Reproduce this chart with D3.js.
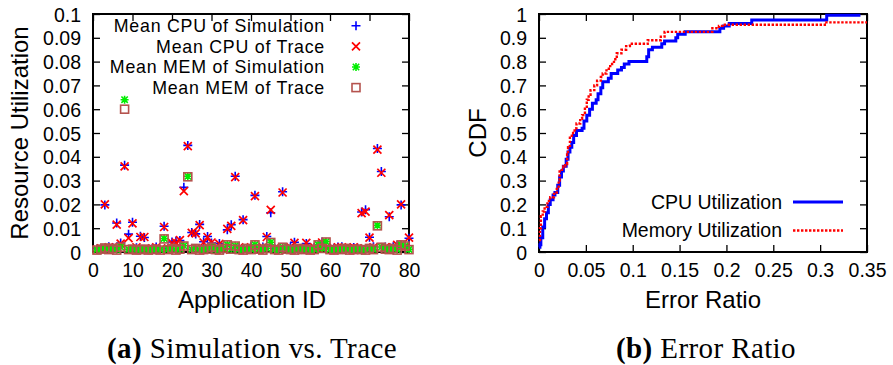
<!DOCTYPE html>
<html>
<head>
<meta charset="utf-8">
<script src="https://cdn.jsdelivr.net/npm/d3@7"></script>
<style>
  html, body { margin: 0; padding: 0; background: #fff; }
  svg { display: block; }
  text { font-family: "Liberation Sans", Arial, Helvetica, sans-serif; fill: #000; }
  .cap { font-family: "Liberation Serif", "Times New Roman", serif; }
</style>
</head>
<body>
<svg id="chart" width="893" height="365"></svg>
<script>
// ---------------- Data: (a) Simulation vs. Trace ----------------
const appIds = [1,2,3,4,5,6,7,8,9,10,11,12,13,14,15,16,17,18,19,20,
  21,22,23,24,25,26,27,28,29,30,31,32,33,34,35,36,37,38,39,40,
  41,42,43,44,45,46,47,48,49,50,51,52,53,54,55,56,57,58,59,60,
  61,62,63,64,65,66,67,68,69,70,71,72,73,74,75,76,77,78,79,80];

const cpuSim = [0.0012,0.0013,0.0198,0.0022,0.0018,0.0122,0.0038,0.0365,0.0075,0.0125,
  0.0018,0.0066,0.0061,0.0012,0.0014,0.0021,0.0011,0.0108,0.0016,0.0042,
  0.0045,0.0048,0.0272,0.0448,0.0082,0.0076,0.0116,0.0043,0.0065,0.0038,
  0.0021,0.0036,0.0012,0.0093,0.0115,0.0318,0.0019,0.0136,0.0011,0.0022,
  0.0238,0.0012,0.0021,0.0065,0.0165,0.0016,0.0012,0.0253,0.0012,0.0021,
  0.0041,0.0011,0.0016,0.0036,0.0012,0.0019,0.0016,0.0042,0.0021,0.0012,
  0.0016,0.0021,0.0022,0.0011,0.0016,0.0019,0.0016,0.0168,0.0178,0.0062,
  0.0022,0.0435,0.0338,0.0021,0.0148,0.0022,0.0028,0.0198,0.0022,0.0058];

const cpuTrace = [0.0010,0.0015,0.0200,0.0020,0.0020,0.0115,0.0035,0.0360,0.0058,0.0120,
  0.0020,0.0063,0.0063,0.0010,0.0015,0.0020,0.0010,0.0105,0.0015,0.0038,
  0.0040,0.0050,0.0256,0.0445,0.0080,0.0078,0.0113,0.0040,0.0063,0.0040,
  0.0020,0.0034,0.0010,0.0097,0.0110,0.0315,0.0020,0.0134,0.0010,0.0020,
  0.0235,0.0010,0.0020,0.0063,0.0177,0.0015,0.0010,0.0250,0.0010,0.0020,
  0.0038,0.0010,0.0015,0.0038,0.0010,0.0020,0.0015,0.0040,0.0020,0.0010,
  0.0015,0.0020,0.0020,0.0010,0.0015,0.0020,0.0015,0.0163,0.0170,0.0060,
  0.0020,0.0430,0.0333,0.0020,0.0155,0.0020,0.0030,0.0200,0.0020,0.0060];

const memSim = [0.0009,0.0013,0.0018,0.0011,0.0016,0.0009,0.0021,0.0640,0.0011,0.0013,
  0.0009,0.0011,0.0013,0.0009,0.0011,0.0013,0.0009,0.0057,0.0011,0.0016,
  0.0009,0.0013,0.0026,0.0318,0.0011,0.0016,0.0009,0.0011,0.0013,0.0021,
  0.0011,0.0009,0.0016,0.0031,0.0013,0.0026,0.0011,0.0009,0.0016,0.0011,
  0.0031,0.0013,0.0009,0.0016,0.0041,0.0011,0.0009,0.0021,0.0013,0.0011,
  0.0009,0.0016,0.0011,0.0013,0.0009,0.0011,0.0031,0.0016,0.0043,0.0011,
  0.0009,0.0013,0.0011,0.0016,0.0009,0.0011,0.0013,0.0011,0.0009,0.0016,
  0.0011,0.0112,0.0021,0.0013,0.0011,0.0016,0.0009,0.0031,0.0026,0.0011];

const memTrace = [0.0008,0.0012,0.0017,0.0010,0.0015,0.0008,0.0020,0.0600,0.0010,0.0012,
  0.0008,0.0010,0.0012,0.0008,0.0010,0.0012,0.0008,0.0055,0.0010,0.0015,
  0.0008,0.0012,0.0025,0.0316,0.0010,0.0015,0.0008,0.0010,0.0012,0.0020,
  0.0010,0.0008,0.0015,0.0030,0.0012,0.0025,0.0010,0.0008,0.0015,0.0010,
  0.0030,0.0012,0.0008,0.0015,0.0040,0.0010,0.0008,0.0020,0.0012,0.0010,
  0.0008,0.0015,0.0010,0.0012,0.0008,0.0010,0.0030,0.0015,0.0042,0.0010,
  0.0008,0.0012,0.0010,0.0015,0.0008,0.0010,0.0012,0.0010,0.0008,0.0015,
  0.0010,0.0110,0.0020,0.0012,0.0010,0.0015,0.0008,0.0030,0.0025,0.0010];

const leftXTicks = [0,10,20,30,40,50,60,70,80];
const leftYTicks = [0,0.01,0.02,0.03,0.04,0.05,0.06,0.07,0.08,0.09,0.1];
const leftLegend = ["Mean CPU of Simulation","Mean CPU of Trace","Mean MEM of Simulation","Mean MEM of Trace"];

// ---------------- Data: (b) Error Ratio CDF ----------------
const cpuErr = [0,0.001,0.002,0.004,0.006,0.008,0.010,0.012,0.015,0.017,0.020,0.022,0.024,0.026,
  0.029,0.031,0.033,0.035,0.037,0.040,0.046,0.048,0.051,0.054,0.057,0.061,0.063,0.066,0.068,
  0.074,0.077,0.084,0.088,0.091,0.096,0.115,0.117,0.121,0.131,0.134,0.146,0.148,0.156,0.193,
  0.197,0.203,0.227,0.307,0.343];
const cpuCdf = [0.02,0.03,0.06,0.105,0.14,0.165,0.20,0.22,0.24,0.25,0.28,0.315,0.34,0.36,
  0.39,0.42,0.44,0.46,0.49,0.51,0.52,0.55,0.575,0.60,0.625,0.64,0.665,0.69,0.715,
  0.73,0.75,0.765,0.775,0.79,0.80,0.82,0.85,0.86,0.875,0.887,0.90,0.915,0.925,0.94,
  0.95,0.96,0.975,0.995,0.995];

const memErr = [0,0.001,0.002,0.004,0.006,0.009,0.012,0.016,0.019,0.021,0.022,0.026,0.028,0.030,
  0.031,0.033,0.035,0.038,0.040,0.044,0.046,0.049,0.051,0.053,0.055,0.059,0.062,0.066,0.068,
  0.072,0.076,0.080,0.083,0.088,0.093,0.097,0.116,0.130,0.134,0.185,0.192,0.196,0.305,0.350];
const memCdf = [0.05,0.10,0.15,0.17,0.19,0.215,0.23,0.25,0.265,0.30,0.345,0.36,0.37,0.41,
  0.44,0.48,0.50,0.52,0.54,0.56,0.575,0.61,0.64,0.66,0.68,0.70,0.72,0.735,0.75,
  0.77,0.79,0.81,0.835,0.85,0.865,0.875,0.89,0.905,0.925,0.94,0.95,0.955,0.965,0.965];

const rightXTicks = [0,0.05,0.1,0.15,0.2,0.25,0.3,0.35];
const rightYTicks = [0,0.1,0.2,0.3,0.4,0.5,0.6,0.7,0.8,0.9,1];
const rightLegend = ["CPU Utilization","Memory Utilization"];

// ---------------- Drawing ----------------
const svg = d3.select("#chart");
const FS = 19.5;
const LFS = 17.8;
const BLUE = "#0000ff", RED = "#ff0000", GREEN = "#00ee00", BROWN = "#b5534e";

function frameAxes(g, x, y, xt, yt, xfmt, yfmt) {
  const [x0, x1] = x.range();
  const [y0, y1] = y.range();
  const mk = (axis, tr) => {
    const a = g.append("g").attr("transform", tr).call(axis);
    a.select(".domain").remove();
    a.selectAll("line").attr("stroke", "#000").attr("stroke-width", 1.3);
    a.selectAll("text").style("font-size", FS + "px")
      .style("font-family", '"Liberation Sans", Arial, sans-serif');
    return a;
  };
  mk(d3.axisBottom(x).tickValues(xt).tickSize(-7).tickPadding(11).tickFormat(xfmt), `translate(0,${y0})`);
  mk(d3.axisTop(x).tickValues(xt).tickSize(-7).tickFormat(""), `translate(0,${y1})`);
  mk(d3.axisLeft(y).tickValues(yt).tickSize(-7).tickPadding(12).tickFormat(yfmt), `translate(${x0},0)`)
    .selectAll("text").attr("dy", "0.36em");
  mk(d3.axisRight(y).tickValues(yt).tickSize(-7).tickFormat(""), `translate(${x1},0)`);
  g.append("rect").attr("x", x0).attr("y", y1).attr("width", x1 - x0).attr("height", y0 - y1)
    .attr("fill", "none").attr("stroke", "#000").attr("stroke-width", 2);
}

// ===== Panel (a) =====
const xa = d3.scaleLinear().domain([0, 80]).range([93, 409]);
const ya = d3.scaleLinear().domain([0, 0.1]).range([252, 14]);
const ga = svg.append("g");
frameAxes(ga, xa, ya, leftXTicks, leftYTicks, d3.format("d"), d => d === 0 ? "0" : String(+d.toFixed(2)));

const plusPath = s => `M${-s},0H${s}M0,${-s}V${s}`;
const crossPath = s => `M${-s},${-s}L${s},${s}M${-s},${s}L${s},${-s}`;
const starPath = s => plusPath(s) + crossPath(s * 0.8);

const markers = [
  {name: leftLegend[0], vals: cpuSim, draw: sel => sel.append("path").attr("d", plusPath(4.5)).attr("stroke", BLUE).attr("stroke-width", 1.6).attr("fill", "none")},
  {name: leftLegend[1], vals: cpuTrace, draw: sel => sel.append("path").attr("d", crossPath(4)).attr("stroke", RED).attr("stroke-width", 1.7).attr("fill", "none")},
  {name: leftLegend[2], vals: memSim, draw: sel => sel.append("path").attr("d", starPath(4)).attr("stroke", GREEN).attr("stroke-width", 1.6).attr("fill", "none")},
  {name: leftLegend[3], vals: memTrace, draw: sel => sel.append("rect").attr("x", -4).attr("y", -4).attr("width", 8).attr("height", 8).attr("stroke", BROWN).attr("stroke-width", 1.6).attr("fill", "none")}
];

markers.forEach(m => {
  const pts = ga.append("g").selectAll("g").data(appIds.map((id, i) => [id, m.vals[i]])).join("g")
    .attr("transform", d => `translate(${xa(d[0])},${ya(d[1])})`);
  m.draw(pts);
});

// legend (a)
const legA = ga.append("g");
markers.forEach((m, i) => {
  const yy = 25.8 + i * 20.6;
  legA.append("text").attr("x", 325).attr("y", yy).attr("dy", "0.35em").attr("text-anchor", "end")
    .style("font-size", LFS + "px").style("letter-spacing", "0.75px").text(m.name);
  const mg = legA.append("g").attr("transform", `translate(356,${yy})`);
  m.draw(mg);
});

ga.append("text").attr("transform", "translate(28,133) rotate(-90)").attr("text-anchor", "middle")
  .style("font-size", "24px").text("Resource Utilization");
ga.append("text").attr("x", 252).attr("y", 308).attr("text-anchor", "middle")
  .style("font-size", "24px").text("Application ID");

// ===== Panel (b) =====
const xb = d3.scaleLinear().domain([0, 0.35]).range([539, 867]);
const yb = d3.scaleLinear().domain([0, 1]).range([252, 14]);
const gb = svg.append("g");
frameAxes(gb, xb, yb, rightXTicks, rightYTicks, d => d === 0 ? "0" : String(+d.toFixed(2)), d => d === 0 ? "0" : String(+d.toFixed(1)));

const lineB = d3.line().x(d => xb(d[0])).y(d => yb(d[1])).curve(d3.curveStepAfter);
gb.append("path").datum(cpuErr.map((e, i) => [e, cpuCdf[i]])).attr("d", lineB)
  .attr("fill", "none").attr("stroke", BLUE).attr("stroke-width", 3);
gb.append("path").datum(memErr.map((e, i) => [e, memCdf[i]])).attr("d", lineB)
  .attr("fill", "none").attr("stroke", RED).attr("stroke-width", 2.4).attr("stroke-dasharray", "2.4,1.6");

// legend (b)
const legB = gb.append("g");
[[rightLegend[0], BLUE, null, 3], [rightLegend[1], RED, "2.4,1.6", 2.4]].forEach((l, i) => {
  const yy = 202 + i * 28.5;
  legB.append("text").attr("x", 782).attr("y", yy).attr("dy", "0.35em").attr("text-anchor", "end")
    .style("font-size", FS + "px").text(l[0]);
  legB.append("line").attr("x1", 793).attr("x2", 843).attr("y1", yy).attr("y2", yy)
    .attr("stroke", l[1]).attr("stroke-width", l[3]).attr("stroke-dasharray", l[2]);
});

gb.append("text").attr("transform", "translate(486,133) rotate(-90)").attr("text-anchor", "middle")
  .style("font-size", "24px").text("CDF");
gb.append("text").attr("x", 703).attr("y", 308).attr("text-anchor", "middle")
  .style("font-size", "24px").text("Error Ratio");

// ===== Captions =====
const capA = svg.append("text").attr("class", "cap").attr("x", 252).attr("y", 358).attr("text-anchor", "middle")
  .style("font-size", "29px").style("letter-spacing", "0.4px");
capA.append("tspan").style("font-weight", "bold").text("(a)");
capA.append("tspan").text(" Simulation vs. Trace");
const capB = svg.append("text").attr("class", "cap").attr("x", 706).attr("y", 358).attr("text-anchor", "middle")
  .style("font-size", "29px").style("letter-spacing", "0.4px");
capB.append("tspan").style("font-weight", "bold").text("(b)");
capB.append("tspan").text(" Error Ratio");
</script>
</body>
</html>
